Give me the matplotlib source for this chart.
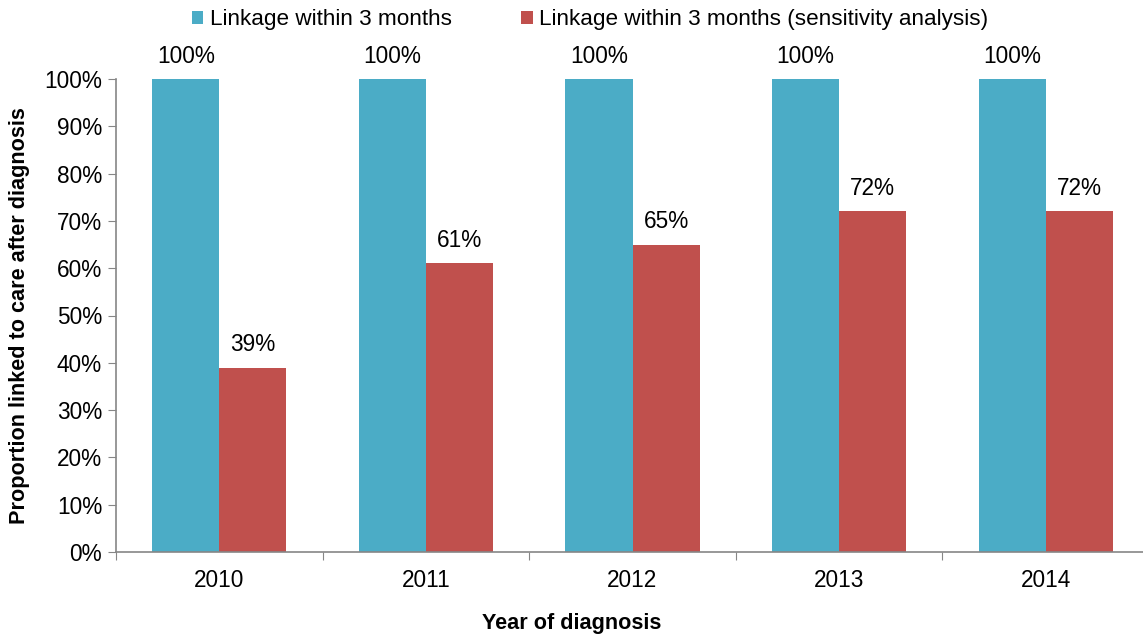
import numpy as np
import matplotlib.pyplot as plt
from matplotlib.ticker import FixedLocator, PercentFormatter

plt.rcParams['font.family'] = ['Liberation Sans', 'DejaVu Sans']

# Linkage to care by year of diagnosis
years = ['2010', '2011', '2012', '2013', '2014']
linkage_3m = [100, 100, 100, 100, 100]
linkage_3m_sens = [39, 61, 65, 72, 72]
series_names = ['Linkage within 3 months',
                'Linkage within 3 months (sensitivity analysis)']

blue = '#4BACC6'
red = '#C0504D'
axis_grey = '#868686'
fs = 16.3

fig = plt.figure(figsize=(11.43, 6.42), dpi=100)
ax = fig.add_axes([116 / 1143, 1 - 552 / 642, 1033 / 1143, 473 / 642])

x = np.arange(len(years))
w = 0.325
b1 = ax.bar(x - w / 2, linkage_3m, width=w, color=blue, label=series_names[0])
b2 = ax.bar(x + w / 2, linkage_3m_sens, width=w, color=red, label=series_names[1])

# value labels above each bar
for bars, vals in ((b1, linkage_3m), (b2, linkage_3m_sens)):
    for rect, v in zip(bars, vals):
        ax.annotate(f'{v}%', (rect.get_x() + rect.get_width() / 2, v),
                    xytext=(0, 8), textcoords='offset points',
                    ha='center', va='bottom', fontsize=fs)

ax.set_xlim(-0.5, len(years) - 0.5)
ax.set_ylim(0, 100)
ax.yaxis.set_major_locator(FixedLocator(np.arange(0, 101, 10)))
ax.yaxis.set_major_formatter(PercentFormatter(decimals=0))

# ticks between categories, labels at category centres
ax.xaxis.set_major_locator(FixedLocator(np.arange(-0.5, len(years), 1)))
ax.xaxis.set_major_formatter(plt.NullFormatter())
ax.set_xticks(x, years, minor=True)
ax.tick_params(axis='x', which='minor', length=0, pad=12, labelsize=fs)
ax.tick_params(axis='x', which='major', length=6, color=axis_grey, direction='out')
ax.tick_params(axis='y', length=6, color=axis_grey, labelsize=fs, pad=4)

for side in ('top', 'right'):
    ax.spines[side].set_visible(False)
for side in ('left', 'bottom'):
    ax.spines[side].set_color(axis_grey)
    ax.spines[side].set_linewidth(1.2)

ax.set_xlabel('Year of diagnosis', fontsize=15.6, fontweight='bold')
ax.xaxis.set_label_coords(0.441, -0.128)
ax.set_ylabel('Proportion linked to care after diagnosis', fontsize=15.6,
              fontweight='bold', labelpad=10)

fig.legend(handles=[b1, b2], loc='center', bbox_to_anchor=(590 / 1143, 1 - 20 / 642),
           ncol=2, frameon=False, fontsize=16.2, handlelength=0.5, handleheight=0.5,
           handletextpad=0.3, columnspacing=3.1)

fig.savefig('out.png', dpi=100)
